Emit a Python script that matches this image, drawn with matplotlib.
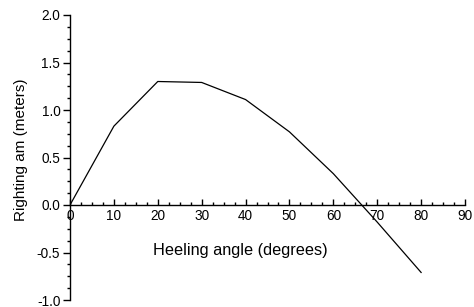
import numpy as np
import matplotlib
matplotlib.use("Agg")
import matplotlib.pyplot as plt
from matplotlib.ticker import MultipleLocator

# heeling angle (degrees) and righting arm (meters)
angles = [0, 10, 20, 30, 40, 50, 60, 70, 80]
righting_arm = [0.0, 0.83, 1.30, 1.29, 1.11, 0.77, 0.33, -0.18, -0.71]

plt.rcParams['font.family'] = ['Liberation Sans', 'DejaVu Sans']

fig = plt.figure(figsize=(4.74, 3.07), dpi=100)
ax = fig.add_axes([70 / 474, 1 - 300 / 307, 395 / 474, 285 / 307])

ax.plot(angles, righting_arm, color='black', linewidth=0.9)

ax.set_xlim(0, 90)
ax.set_ylim(-1.0, 2.0)

ax.spines['right'].set_visible(False)
ax.spines['top'].set_visible(False)
ax.spines['bottom'].set_position(('data', 0))
ax.spines['left'].set_linewidth(1.0)
ax.spines['bottom'].set_linewidth(1.0)

ax.xaxis.set_major_locator(MultipleLocator(10))
ax.xaxis.set_minor_locator(MultipleLocator(2.5))
ax.yaxis.set_major_locator(MultipleLocator(0.5))
ax.yaxis.set_minor_locator(MultipleLocator(0.125))
ax.yaxis.set_major_formatter(plt.FormatStrFormatter('%.1f'))

ax.tick_params(axis='x', which='major', direction='in', length=4, width=1, labelsize=9.8, pad=3)
ax.tick_params(axis='x', which='minor', direction='in', length=2, width=1)
ax.tick_params(axis='y', which='major', direction='out', length=5, width=1, labelsize=9.8, pad=2)
ax.tick_params(axis='y', which='minor', direction='out', length=2.5, width=1)

ax.text(38.7, -0.475, 'Heeling angle (degrees)', ha='center', va='center', fontsize=11.7)
fig.text(21 / 474, 1 - 150 / 307, 'Righting am (meters)', rotation=90,
         ha='center', va='center', fontsize=11)

fig.savefig('out.png', dpi=100)
